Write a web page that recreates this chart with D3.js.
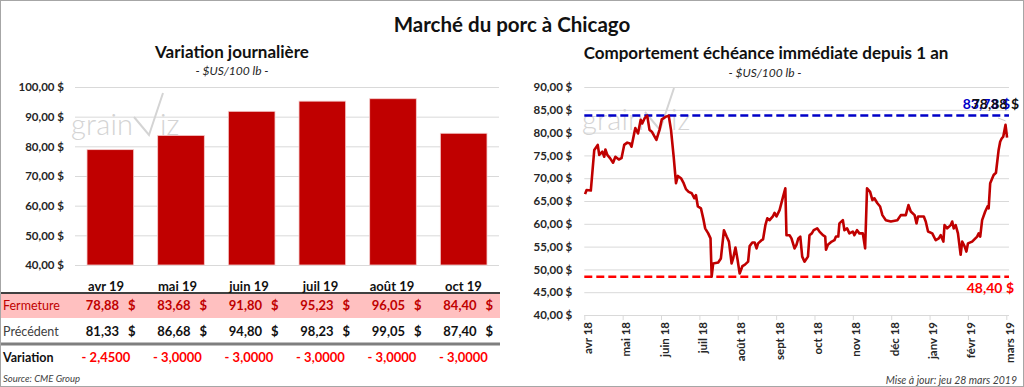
<!DOCTYPE html>
<html>
<head>
<meta charset="utf-8">
<script src="https://cdn.jsdelivr.net/npm/d3@7"></script>
<style>
  body { margin: 0; background: #fff; }
  svg { display: block; font-family: Lato, "Open Sans", sans-serif; }
</style>
</head>
<body>
<svg id="chart" width="1024" height="387"></svg>
<script>
// --- donnees : variation journaliere ---
var mois = ["avr 19", "mai 19", "juin 19", "juil 19", "août 19", "oct 19"];
var fermeture = [78.88, 83.68, 91.80, 95.23, 96.05, 84.40];
var precedent = [81.33, 86.68, 94.80, 98.23, 99.05, 87.40];
var variation = [-2.45, -3.00, -3.00, -3.00, -3.00, -3.00];
var barTicks = [40, 50, 60, 70, 80, 90, 100];

// --- donnees : echeance immediate depuis 1 an ---
var moisHisto = ["avr 18", "mai 18", "juin 18", "juil 18", "août 18", "sept 18",
  "oct 18", "nov 18", "déc 18", "janv 19", "févr 19", "mars 19"];
var histoT = [0.02, 0.06, 0.17, 0.26, 0.35, 0.39, 0.47, 0.52, 0.55, 0.60, 0.67, 0.75, 0.81, 0.90, 0.97,
  1.04, 1.12, 1.19, 1.23, 1.30, 1.33, 1.40, 1.47, 1.51, 1.57, 1.64, 1.70, 1.76, 1.88, 1.96,
  2.02, 2.13, 2.20, 2.26, 2.33, 2.39, 2.44, 2.52, 2.59, 2.65, 2.72, 2.80, 2.87, 2.91, 2.96,
  3.04, 3.11, 3.15, 3.23, 3.29, 3.32, 3.36, 3.49, 3.56, 3.64, 3.71, 3.77, 3.84, 3.88, 3.94, 3.99,
  4.05, 4.12, 4.18, 4.27, 4.31, 4.38, 4.44, 4.49, 4.53, 4.62, 4.66, 4.72, 4.77, 4.83, 4.92, 4.96,
  5.01, 5.09, 5.18, 5.24, 5.27, 5.35, 5.40, 5.48, 5.53, 5.58, 5.63, 5.68, 5.74, 5.83, 5.87, 5.93, 5.98,
  6.07, 6.13, 6.22, 6.28, 6.30, 6.35, 6.45, 6.52, 6.56, 6.62, 6.65, 6.74, 6.78, 6.85, 6.91,
  7.00, 7.04, 7.11, 7.17, 7.26, 7.32, 7.37, 7.45, 7.51, 7.56, 7.64, 7.71, 7.77, 7.86, 7.99,
  8.16, 8.25, 8.38, 8.45, 8.51, 8.61, 8.66, 8.70, 8.85, 8.90, 8.96,
  9.07, 9.16, 9.24, 9.29, 9.36, 9.39, 9.46, 9.55, 9.59, 9.63, 9.68, 9.74, 9.81, 9.85, 9.91, 9.96,
  10.00, 10.11, 10.24, 10.28, 10.32, 10.37, 10.45, 10.51, 10.54, 10.58, 10.67, 10.73, 10.80, 10.84,
  10.88, 10.92, 10.98, 11.02];
var histoPrix = [66.5, 67.4, 67.3, 76.2, 77.3, 75.1, 75.8, 74.7, 76.3, 75.1, 74.4, 73.4, 74.7, 74.1, 74.4,
  77.3, 77.8, 77.6, 76.9, 79.8, 81.0, 79.8, 82.8, 82.0, 83.1, 83.73, 80.6, 80.2, 78.4, 80.6,
  82.9, 83.5, 83.73, 80.6, 74.7, 68.9, 70.5, 70.0, 68.9, 67.6, 67.0, 66.7, 65.6, 66.3, 63.8,
  63.4, 60.8, 59.0, 57.9, 56.8, 48.4, 51.3, 51.5, 52.4, 58.6, 57.2, 56.1, 51.3, 52.4, 54.8, 52.4,
  49.1, 50.7, 51.0, 51.7, 55.1, 55.9, 55.9, 54.6, 55.7, 56.4, 56.6, 59.7, 61.2, 60.8, 61.7, 62.4,
  61.6, 63.0, 65.9, 67.8, 57.5, 57.5, 56.8, 54.6, 55.4, 56.8, 57.2, 52.8, 51.7, 52.8, 57.5, 57.9, 58.6,
  59.0, 58.3, 57.5, 57.2, 54.3, 55.4, 56.1, 56.4, 57.2, 57.2, 60.1, 60.8, 58.6, 59.0, 57.9,
  58.3, 57.5, 58.6, 57.9, 57.9, 54.6, 67.8, 67.0, 65.2, 65.6, 64.5, 63.8, 61.9, 60.8, 60.5,
  60.8, 61.9, 61.9, 64.1, 62.7, 61.9, 60.1, 61.6, 61.6, 60.5, 58.3,
  57.9, 56.4, 56.8, 57.5, 56.1, 59.7, 59.0, 59.7, 60.5, 59.0, 59.7, 57.9, 53.2, 56.1, 55.1, 53.9,
  55.7, 56.1, 57.2, 57.9, 57.2, 60.8, 62.7, 63.8, 63.4, 68.9, 70.7, 71.2, 76.2, 78.0,
  78.7, 79.1, 81.7, 78.88];
var lineTicks = [40, 45, 50, 55, 60, 65, 70, 75, 80, 85, 90];
var maxAn = 83.73;
var minAn = 48.40;

var fr = function(v) { return d3.format(".2f")(v).replace(".", ","); };
var fr4 = function(v) { return "- " + d3.format(".4f")(Math.abs(v)).replace(".", ","); };

var svg = d3.select("#chart");
var dark = "#262626";

svg.append("rect").attr("x", 0.5).attr("y", 0.5).attr("width", 1023).attr("height", 386)
  .attr("fill", "#fff").attr("stroke", "#a6a6a6");

svg.append("text").attr("x", 512).attr("y", 32).attr("text-anchor", "middle")
  .attr("font-size", 20.5).attr("font-weight", "bold").attr("fill", "#111")
  .text("Marché du porc à Chicago");

// filigrane grainViz
function filigrane(g, dx, dy) {
  var w = g.append("g").attr("transform", "translate(" + dx + "," + dy + ")")
    .attr("fill", "#d4d4d4").attr("stroke", "#d4d4d4");
  w.append("text").attr("x", 71).attr("y", 135).attr("font-size", 29).attr("stroke", "none")
    .attr("font-weight", 300).attr("textLength", 62).text("grain");
  w.append("path").attr("d", "M134,117L149,135L163,93").attr("fill", "none").attr("stroke-width", 2);
  w.append("text").attr("x", 160).attr("y", 135).attr("font-size", 29).attr("stroke", "none")
    .attr("font-weight", 300).text("iz");
}

// ---------- graphique de gauche ----------
var left = svg.append("g");
left.append("text").attr("x", 232).attr("y", 58).attr("text-anchor", "middle")
  .attr("font-size", 17).attr("font-weight", "bold").attr("fill", "#111").text("Variation journalière");
left.append("text").attr("x", 232).attr("y", 75).attr("text-anchor", "middle")
  .attr("font-size", 12).attr("font-style", "italic").attr("fill", dark).text("- $US/100 lb -");

var xb = d3.scaleBand().domain(mois).range([75, 499]).paddingInner(0.34).paddingOuter(0.17);
var yb = d3.scaleLinear().domain([40, 100]).range([265, 87]);

var gridB = left.append("g").attr("transform", "translate(75,0)")
  .call(d3.axisLeft(yb).tickValues(barTicks).tickSize(-424).tickFormat(""));
gridB.select(".domain").remove();
gridB.selectAll("line").attr("stroke", "#d9d9d9");

var axB = left.append("g").attr("transform", "translate(75,0)")
  .call(d3.axisLeft(yb).tickValues(barTicks).tickSize(0).tickPadding(11)
    .tickFormat(function(v) { return fr(v) + " $"; }));
axB.select(".domain").remove();
axB.selectAll("text").attr("font-size", 11.5).attr("font-weight", "bold").attr("fill", dark)
  .attr("font-family", "Lato, sans-serif");

filigrane(left, 0, 0);

left.selectAll(".bar").data(fermeture).enter().append("rect")
  .attr("x", function(d, i) { return xb(mois[i]); })
  .attr("y", function(d) { return yb(d); })
  .attr("width", xb.bandwidth())
  .attr("height", function(d) { return yb(40) - yb(d); })
  .attr("fill", "#c00000").attr("stroke", "#f4cccc").attr("stroke-width", 0.8);

// tableau
var colX = d3.scaleLinear().domain([0, 5]).range([106, 463.5]);
left.append("rect").attr("x", 1).attr("y", 293).attr("width", 499).attr("height", 25).attr("fill", "#ffc0c0");
left.append("line").attr("x1", 1).attr("x2", 500).attr("y1", 293).attr("y2", 293)
  .attr("stroke", "#404040").attr("stroke-width", 2);
left.append("line").attr("x1", 1).attr("x2", 500).attr("y1", 344).attr("y2", 344)
  .attr("stroke", "#7f7f7f").attr("stroke-width", 3);

left.selectAll(".mois").data(mois).enter().append("text")
  .attr("x", function(d, i) { return colX(i); }).attr("y", 291)
  .attr("text-anchor", "middle").attr("font-size", 13).attr("font-weight", "bold").attr("fill", "#111")
  .text(function(d) { return d; });

function ligne(vals, y, color, label, labelColor, labelWeight) {
  left.append("text").attr("x", 3).attr("y", y).attr("font-size", 12.5)
    .attr("font-weight", labelWeight).attr("fill", labelColor).text(label);
  left.selectAll(null).data(vals).enter().append("text")
    .attr("x", function(d, i) { return colX(i) + 13; }).attr("y", y)
    .attr("text-anchor", "end").attr("font-size", 13).attr("font-weight", "bold").attr("fill", color)
    .text(function(d) { return fr(d); });
  left.selectAll(null).data(vals).enter().append("text")
    .attr("x", function(d, i) { return colX(i) + 22; }).attr("y", y)
    .attr("font-size", 13).attr("font-weight", "bold").attr("fill", color).text("$");
}
ligne(fermeture, 310, "#c00000", "Fermeture", "#c00000", "normal");
ligne(precedent, 336, "#111", "Précédent", "#404040", "normal");

left.append("text").attr("x", 3).attr("y", 362).attr("font-size", 12.5).attr("font-weight", "bold")
  .attr("fill", "#111").text("Variation");
left.selectAll(".var").data(variation).enter().append("text")
  .attr("x", function(d, i) { return colX(i); }).attr("y", 362).attr("text-anchor", "middle")
  .attr("font-size", 13).attr("font-weight", "bold").attr("fill", "#ff0000")
  .text(function(d) { return fr4(d); });

left.append("text").attr("x", 3).attr("y", 382).attr("font-size", 9.5).attr("font-style", "italic")
  .attr("fill", "#404040").text("Source: CME Group");

// ---------- graphique de droite ----------
var right = svg.append("g");
right.append("text").attr("x", 766).attr("y", 59).attr("text-anchor", "middle")
  .attr("font-size", 17).attr("font-weight", "bold").attr("fill", "#111")
  .text("Comportement échéance immédiate depuis 1 an");
right.append("text").attr("x", 765).attr("y", 77).attr("text-anchor", "middle")
  .attr("font-size", 12).attr("font-style", "italic").attr("fill", dark).text("- $US/100 lb -");

var xl = d3.scaleLinear().domain([0, 11]).range([584.3, 1006.3]);
var yl = d3.scaleLinear().domain([40, 90]).range([315, 87]);
var xEnd = xl(11.07);

var gridL = right.append("g").attr("transform", "translate(" + xl(0) + ",0)")
  .call(d3.axisLeft(yl).tickValues(lineTicks.slice(1)).tickSize(-(xEnd - xl(0))).tickFormat(""));
gridL.select(".domain").remove();
gridL.selectAll("line").attr("stroke", "#d9d9d9");

var axL = right.append("g").attr("transform", "translate(" + xl(0) + ",0)")
  .call(d3.axisLeft(yl).tickValues(lineTicks).tickSize(0).tickPadding(12)
    .tickFormat(function(v) { return fr(v) + " $"; }));
axL.select(".domain").remove();
axL.selectAll("text").attr("font-size", 11.5).attr("font-weight", "bold").attr("fill", dark)
  .attr("font-family", "Lato, sans-serif");

var axX = right.append("g").attr("transform", "translate(0," + yl(40) + ")")
  .call(d3.axisBottom(xl).tickValues(d3.range(12)).tickSize(5)
    .tickFormat(function(i) { return moisHisto[i]; }));
axX.select(".domain").attr("d", "M" + xl(0) + ",0.5H" + xEnd).attr("stroke", "#d9d9d9");
axX.selectAll("line").attr("stroke", "#d9d9d9");
axX.selectAll("text").attr("transform", "rotate(-90)").attr("text-anchor", "end")
  .attr("x", -7).attr("y", 3).attr("dy", "0.35em")
  .attr("font-size", 11.5).attr("font-weight", "bold").attr("fill", dark).attr("font-family", "Lato, sans-serif");

filigrane(right, 511, -5);

right.append("line").attr("x1", xl(0)).attr("x2", xEnd).attr("y1", yl(minAn)).attr("y2", yl(minAn))
  .attr("stroke", "#ff0000").attr("stroke-width", 2.5).attr("stroke-dasharray", "8,4");
right.append("line").attr("x1", xl(0)).attr("x2", xEnd).attr("y1", yl(maxAn)).attr("y2", yl(maxAn))
  .attr("stroke", "#0000c8").attr("stroke-width", 2.5).attr("stroke-dasharray", "8,4");

var line = d3.line().x(function(d) { return xl(d[0]); }).y(function(d) { return yl(d[1]); });
right.append("path").datum(d3.zip(histoT, histoPrix)).attr("d", line)
  .attr("fill", "none").attr("stroke", "#c00000").attr("stroke-width", 2.6).attr("stroke-linejoin", "round");

// etiquettes : max, dernier prix (superposees comme dans l'original), min
var dernier = histoPrix[histoPrix.length - 1];
right.append("line").attr("x1", 998).attr("y1", 118).attr("x2", xl(histoT[histoT.length - 2]))
  .attr("y2", yl(histoPrix[histoPrix.length - 2]) - 4).attr("stroke", "#bfbfbf").attr("stroke-width", 0.8);
right.append("text").attr("x", 1010).attr("y", 109).attr("text-anchor", "end")
  .attr("font-size", 14).attr("font-weight", "bold").attr("fill", "#0000c8").text(fr(maxAn) + " $");
right.append("text").attr("x", 1019).attr("y", 109).attr("text-anchor", "end")
  .attr("font-size", 14).attr("font-weight", "bold").attr("fill", "#111").text(fr(dernier) + " $");
right.append("text").attr("x", 1014).attr("y", 293).attr("text-anchor", "end")
  .attr("font-size", 14).attr("font-weight", "bold").attr("fill", "#ff0000").text(fr(minAn) + " $");

right.append("text").attr("x", 1017).attr("y", 384).attr("text-anchor", "end")
  .attr("font-size", 10.5).attr("font-style", "italic").attr("fill", "#404040")
  .text("Mise à jour: jeu 28 mars 2019");
</script>
</body>
</html>
